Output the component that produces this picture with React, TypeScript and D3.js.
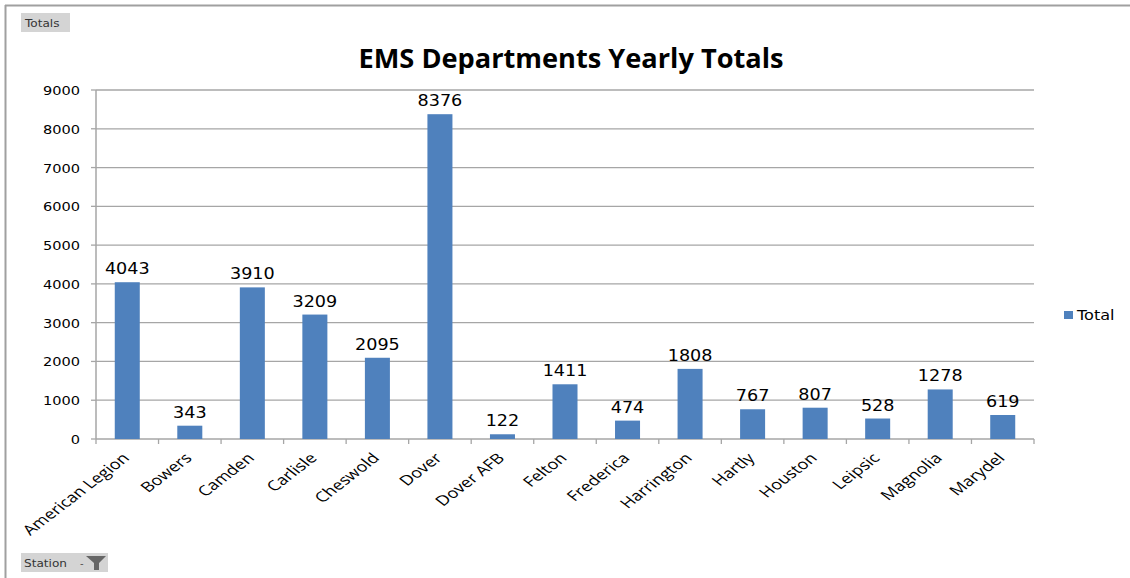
import React from "react";
import * as d3 from "d3";

const categories = ["American Legion", "Bowers", "Camden", "Carlisle", "Cheswold", "Dover", "Dover AFB", "Felton", "Frederica", "Harrington", "Hartly", "Houston", "Leipsic", "Magnolia", "Marydel"];
const totals = [4043, 343, 3910, 3209, 2095, 8376, 122, 1411, 474, 1808, 767, 807, 528, 1278, 619];
const yTicks = [0, 1000, 2000, 3000, 4000, 5000, 6000, 7000, 8000, 9000];

const W = 1130, H = 578;
const left = 96, right = 1034, top = 90, bottom = 439;

export default function App() {
  const x = d3.scaleBand<string>().domain(categories).range([left, right]).paddingInner(0.6).paddingOuter(0.3);
  const y = d3.scaleLinear().domain([0, 9000]).range([bottom, top]);
  const step = (right - left) / categories.length;
  const grid = "#a6a6a6";
  const font = "'DejaVu Sans', Verdana, sans-serif";
  return (
    <svg width={W} height={H} style={{ position: "absolute", left: 0, top: 0, background: "#fff" }}>
      <rect x={0} y={0} width={W} height={H} fill="#fff" />
      <line x1={5} x2={W} y1={5.5} y2={5.5} stroke="#a0a0a0" strokeWidth={2} />
      <line x1={5.5} x2={5.5} y1={5} y2={H} stroke="#a0a0a0" strokeWidth={2} />
      <rect x={21} y={13} width={49} height={19} fill="#d4d4d4" />
      <text transform="translate(25,27) scale(1.1,1)" fontFamily={font} fontSize={11} fill="#333">Totals</text>
      <rect x={21} y={553} width={87} height={19} fill="#d4d4d4" />
      <text transform="translate(24,567) scale(1.1,1)" fontFamily={font} fontSize={11} fill="#333">Station</text>
      <text x={80} y={567} fontFamily={font} fontSize={10} fill="#555">-</text>
      <path d="M86,556 L106,556 L99,563 L99,570 L94,570 L94,563 Z" fill="#666" />
      <text x={571} y={68} textAnchor="middle" textLength={425} lengthAdjust="spacingAndGlyphs" fontFamily="'Open Sans', sans-serif" fontWeight="bold" fontSize={26} fill="#000">EMS Departments Yearly Totals</text>
      {yTicks.map(t => (
        <g key={t}>
          {t > 0 && <line x1={left} x2={right} y1={y(t)} y2={y(t)} stroke={grid} strokeWidth={1.3} />}
          <line x1={left - 5} x2={left} y1={y(t)} y2={y(t)} stroke={grid} strokeWidth={1.3} />
          <text transform={`translate(${left - 16},${y(t) + 5}) scale(1.12,1)`} textAnchor="end" fontFamily={font} fontSize={13} fill="#000">{t}</text>
        </g>
      ))}
      <line x1={left} x2={left} y1={top} y2={bottom} stroke={grid} strokeWidth={1.5} />
      <line x1={left} x2={right} y1={bottom} y2={bottom} stroke={grid} strokeWidth={1.5} />
      {d3.range(categories.length + 1).map(i => (
        <line key={i} x1={left + i * step} x2={left + i * step} y1={bottom} y2={bottom + 5} stroke={grid} strokeWidth={1.3} />
      ))}
      {categories.map((c, i) => (
        <g key={c}>
          <rect x={x(c)!} y={y(totals[i])} width={x.bandwidth()} height={bottom - y(totals[i])} fill="#4f81bd" />
          <text transform={`translate(${x(c)! + x.bandwidth() / 2},${y(totals[i]) - 8}) scale(1.1,1)`} textAnchor="middle" fontFamily={font} fontSize={16} fill="#000">{totals[i]}</text>
          <text transform={`translate(${x(c)! + x.bandwidth() / 2 + 3},${bottom + 20}) scale(1.3,1) rotate(-45)`} textAnchor="end" fontFamily="'Open Sans', sans-serif" fontSize={14} fill="#000">{c}</text>
        </g>
      ))}
      <rect x={1064} y={311} width={9} height={8} fill="#4f81bd" />
      <text transform="translate(1077,320) scale(1.15,1)" fontFamily={font} fontSize={14} fill="#000">Total</text>
    </svg>
  );
}
